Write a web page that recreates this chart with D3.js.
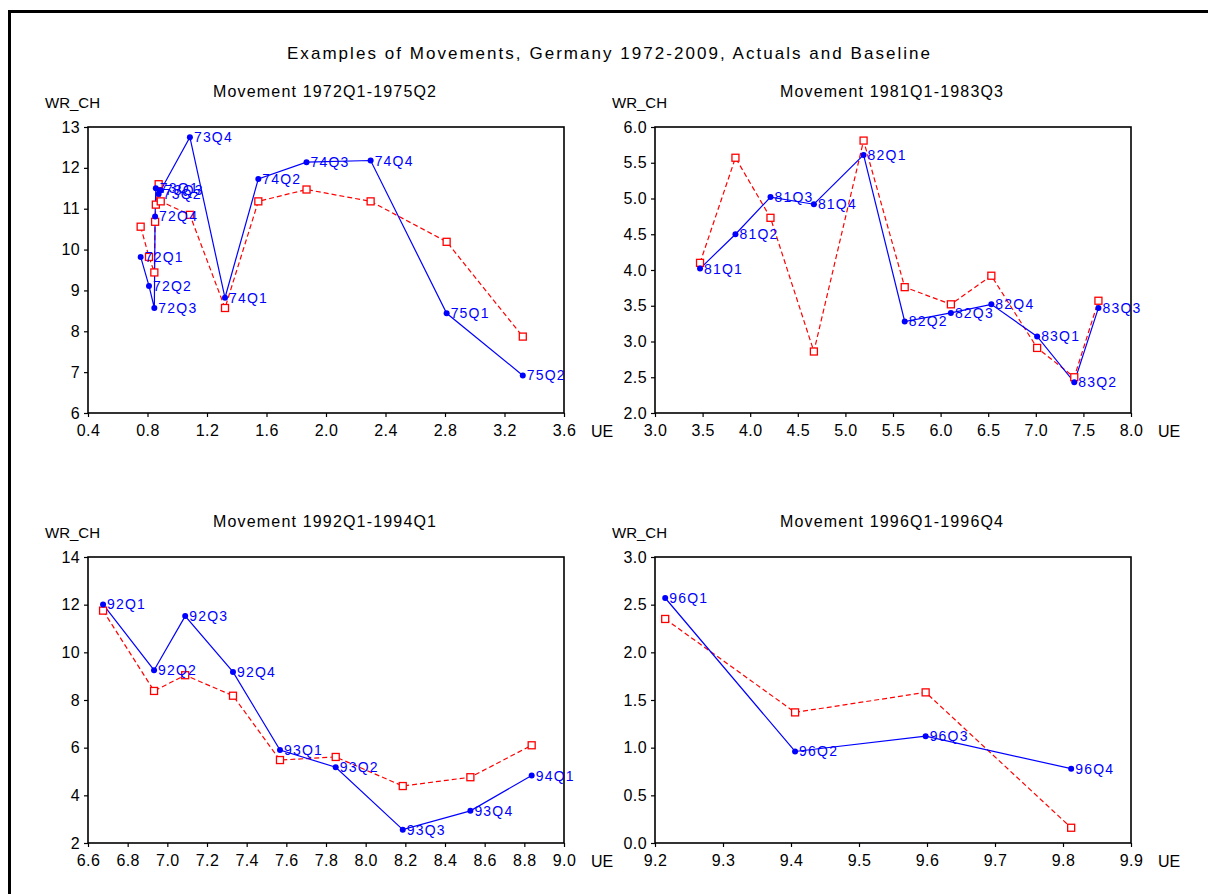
<!DOCTYPE html>
<html>
<head>
<meta charset="utf-8">
<script src="https://cdn.jsdelivr.net/npm/d3@7"></script>
<style>
body {margin:0; background:#fff;}
text {font-family: Arial, "Liberation Sans", sans-serif;}
</style>
</head>
<body>
<svg width="1208" height="894"></svg>
<script>
// Movement 1972Q1-1975Q2
var ue1   = [0.754, 0.81, 0.846, 0.851, 0.856, 0.875, 0.889, 1.085, 1.321, 1.545, 1.869, 2.30, 2.811, 3.323];
var act1  = [9.82, 9.11, 8.57, 10.81, 11.50, 11.36, 11.45, 12.75, 8.82, 11.73, 12.14, 12.18, 8.44, 6.92];
var base1 = [10.56, 9.82, 9.44, 10.68, 11.10, 11.60, 11.18, 10.85, 8.57, 11.18, 11.47, 11.18, 10.19, 7.87];
var lab1  = ["72Q1","72Q2","72Q3","72Q4","73Q1","73Q2","73Q3","73Q4","74Q1","74Q2","74Q3","74Q4","75Q1","75Q2"];
var xTicks1 = [0.4, 0.8, 1.2, 1.6, 2.0, 2.4, 2.8, 3.2, 3.6];
var yTicks1 = [6, 7, 8, 9, 10, 11, 12, 13];

// Movement 1981Q1-1983Q3
var ue2   = [3.473, 3.845, 4.213, 4.669, 5.191, 5.623, 6.108, 6.533, 7.014, 7.404, 7.658];
var act2  = [4.02, 4.50, 5.02, 4.92, 5.61, 3.28, 3.40, 3.52, 3.07, 2.43, 3.47];
var base2 = [4.10, 5.57, 4.73, 2.86, 5.81, 3.76, 3.52, 3.92, 2.91, 2.50, 3.57];
var lab2  = ["81Q1","81Q2","81Q3","81Q4","82Q1","82Q2","82Q3","82Q4","83Q1","83Q2","83Q3"];
var xTicks2 = [3.0, 3.5, 4.0, 4.5, 5.0, 5.5, 6.0, 6.5, 7.0, 7.5, 8.0];
var yTicks2 = [2.0, 2.5, 3.0, 3.5, 4.0, 4.5, 5.0, 5.5, 6.0];

// Movement 1992Q1-1994Q1
var ue3   = [6.676, 6.933, 7.09, 7.331, 7.568, 7.849, 8.187, 8.528, 8.837];
var act3  = [12.01, 9.25, 11.52, 9.18, 5.90, 5.18, 2.56, 3.35, 4.83];
var base3 = [11.75, 8.38, 9.04, 8.18, 5.48, 5.61, 4.39, 4.76, 6.10];
var lab3  = ["92Q1","92Q2","92Q3","92Q4","93Q1","93Q2","93Q3","93Q4","94Q1"];
var xTicks3 = [6.6, 6.8, 7.0, 7.2, 7.4, 7.6, 7.8, 8.0, 8.2, 8.4, 8.6, 8.8, 9.0];
var yTicks3 = [2, 4, 6, 8, 10, 12, 14];

// Movement 1996Q1-1996Q4
var ue4   = [9.215, 9.406, 9.598, 9.812];
var act4  = [2.57, 0.96, 1.12, 0.78];
var base4 = [2.35, 1.37, 1.58, 0.16];
var lab4  = ["96Q1","96Q2","96Q3","96Q4"];
var xTicks4 = [9.2, 9.3, 9.4, 9.5, 9.6, 9.7, 9.8, 9.9];
var yTicks4 = [0.0, 0.5, 1.0, 1.5, 2.0, 2.5, 3.0];

var svg = d3.select("svg");

// outer frame, runs off the right and bottom edges like the original
svg.append("rect")
    .attr("x", 9.5).attr("y", 11.5)
    .attr("width", 1400).attr("height", 1000)
    .attr("fill", "#fff")
    .attr("stroke", "#000")
    .attr("stroke-width", 3);

svg.append("text")
    .attr("x", 287).attr("y", 59)
    .attr("textLength", 643).attr("lengthAdjust", "spacing")
    .style("font-size", "17px")
    .text("Examples of Movements, Germany 1972-2009, Actuals and Baseline");

var panels = [
    {title: "Movement 1972Q1-1975Q2", ue: ue1, act: act1, base: base1, lab: lab1, xt: xTicks1, yt: yTicks1, yf: "d", left: 88, top: 127},
    {title: "Movement 1981Q1-1983Q3", ue: ue2, act: act2, base: base2, lab: lab2, xt: xTicks2, yt: yTicks2, yf: ".1f", left: 655, top: 127},
    {title: "Movement 1992Q1-1994Q1", ue: ue3, act: act3, base: base3, lab: lab3, xt: xTicks3, yt: yTicks3, yf: "d", left: 88, top: 557},
    {title: "Movement 1996Q1-1996Q4", ue: ue4, act: act4, base: base4, lab: lab4, xt: xTicks4, yt: yTicks4, yf: ".1f", left: 655, top: 557}
];

var w = 476, h = 286;

panels.forEach(function (p) {
    var g = svg.append("g").attr("transform", "translate(" + p.left + "," + p.top + ")");

    var x = d3.scaleLinear().domain([p.xt[0], p.xt[p.xt.length - 1]]).range([0, w]);
    var y = d3.scaleLinear().domain([p.yt[0], p.yt[p.yt.length - 1]]).range([h, 0]);

    g.append("text")
        .attr("x", 125).attr("y", -30)
        .attr("textLength", 223).attr("lengthAdjust", "spacing")
        .style("font-size", "16px")
        .text(p.title);

    g.append("text")
        .attr("x", -43).attr("y", -19)
        .style("font-size", "15px")
        .text("WR_CH");

    g.append("text")
        .attr("x", w + 27).attr("y", h + 24)
        .style("font-size", "16px")
        .text("UE");

    var yAxis = g.append("g")
        .call(d3.axisLeft(y).tickValues(p.yt).tickFormat(d3.format(p.yf)).tickSize(4).tickPadding(4).tickSizeOuter(0));
    var xAxis = g.append("g")
        .attr("transform", "translate(0," + h + ")")
        .call(d3.axisBottom(x).tickValues(p.xt).tickFormat(d3.format(".1f")).tickSize(4).tickPadding(8).tickSizeOuter(0));
    [yAxis, xAxis].forEach(function (a) {
        a.select(".domain").remove();
        a.selectAll("line").attr("stroke", "#000").attr("stroke-width", 1.2);
        a.selectAll("text")
            .attr("fill", "#000")
            .style("font-size", "16px")
            .style("font-family", "Arial, 'Liberation Sans', sans-serif")
            .style("letter-spacing", "0.4px");
    });

    g.append("rect")
        .attr("width", w).attr("height", h)
        .attr("fill", "none")
        .attr("stroke", "#000")
        .attr("stroke-width", 1.6);

    var pts = p.ue.map(function (u, i) {
        return {u: u, a: p.act[i], b: p.base[i], lab: p.lab[i]};
    });

    var lineA = d3.line().x(function (d) {return x(d.u);}).y(function (d) {return y(d.a);});
    var lineB = d3.line().x(function (d) {return x(d.u);}).y(function (d) {return y(d.b);});

    g.append("path")
        .datum(pts)
        .attr("d", lineB)
        .attr("fill", "none")
        .attr("stroke", "#ff0000")
        .attr("stroke-width", 1.2)
        .attr("stroke-dasharray", "5,3");

    g.append("path")
        .datum(pts)
        .attr("d", lineA)
        .attr("fill", "none")
        .attr("stroke", "#0000ff")
        .attr("stroke-width", 1.2);

    g.selectAll(".sq")
        .data(pts)
        .enter()
        .append("rect")
        .attr("class", "sq")
        .attr("x", function (d) {return x(d.u) - 3.5;})
        .attr("y", function (d) {return y(d.b) - 3.5;})
        .attr("width", 7).attr("height", 7)
        .attr("fill", "#fff")
        .attr("stroke", "#ff0000")
        .attr("stroke-width", 1.3);

    g.selectAll(".dot")
        .data(pts)
        .enter()
        .append("circle")
        .attr("class", "dot")
        .attr("cx", function (d) {return x(d.u);})
        .attr("cy", function (d) {return y(d.a);})
        .attr("r", 3)
        .attr("fill", "#0000ff");

    g.selectAll(".lab")
        .data(pts)
        .enter()
        .append("text")
        .attr("class", "lab")
        .attr("x", function (d) {return x(d.u) + 4;})
        .attr("y", function (d) {return y(d.a) + 5;})
        .attr("fill", "#0000ff")
        .style("font-size", "14px")
        .style("letter-spacing", "1.2px")
        .text(function (d) {return d.lab;});
});
</script>
</body>
</html>
